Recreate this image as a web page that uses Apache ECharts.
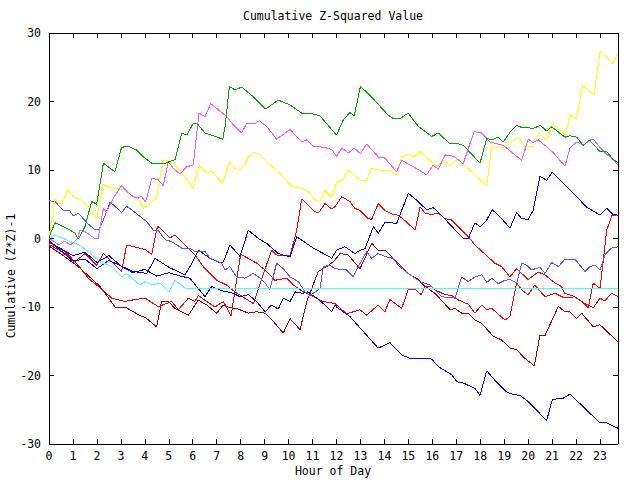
<!DOCTYPE html>
<html><head><meta charset="utf-8">
<script src="https://cdn.jsdelivr.net/npm/echarts@6/dist/echarts.min.js"></script>
<style>html,body{margin:0;padding:0;background:#fff}#c{width:640px;height:480px}#c svg path{shape-rendering:crispEdges}</style>
</head><body><div id="c"></div>
<script>
const titleText = 'Cumulative Z-Squared Value';
const xName = 'Hour of Day';
const yName = 'Cumulative (Z*Z)-1';
const hourTicks = [0,1,2,3,4,5,6,7,8,9,10,11,12,13,14,15,16,17,18,19,20,21,22,23];
const valueTicks = [-30,-20,-10,0,10,20,30];

const green = [[0,0.2],[0.25,2.3],[0.74,1.5],[1.08,0.8],[1.22,-0.1],[1.5,1.7],[1.78,5.4],[1.99,5.0],[2.27,11.0],[2.75,9.75],[3.03,13.3],[3.31,13.5],[3.66,12.9],[3.94,11.9],[4.29,11.0],[4.77,10.9],[5.26,11.5],[5.54,15.4],[5.75,15.1],[6.02,16.8],[6.2,16.7],[6.51,15.4],[6.86,15.0],[7.25,14.5],[7.35,16.3],[7.53,22.2],[7.76,21.7],[8.04,22.1],[8.53,20.7],[9.04,18.9],[9.57,20.2],[10.06,19.5],[10.55,18.3],[11.0,18.2],[11.31,17.9],[12.0,15.1],[12.28,17.3],[12.56,18.4],[12.74,17.9],[13.0,22.2],[13.4,20.9],[14.16,18.0],[14.37,17.5],[14.65,17.5],[14.99,18.3],[15.41,16.4],[15.97,14.9],[16.25,15.4],[16.74,13.8],[17.0,13.9],[17.3,13.6],[17.99,11.0],[18.27,14.6],[18.5,14.4],[18.75,14.8],[18.96,14.1],[19.24,15.5],[19.52,16.5],[19.73,16.2],[20.21,16.1],[20.52,16.5],[20.77,15.7],[20.98,16.3],[21.54,14.8],[21.75,15.0],[22.02,14.8],[22.3,13.6],[22.55,14.4],[23.0,12.7],[23.28,12.7],[23.55,11.5],[23.75,11.1]];
const magenta = [[0,0],[0.25,-0.5],[0.4,-0.95],[0.65,-0.4],[0.9,-0.95],[1.2,0],[1.29,1.24],[1.5,1.0],[1.92,0],[2.05,0],[2.27,4.4],[2.4,3.8],[2.62,5.4],[2.7,6.0],[3.03,7.7],[3.24,6.9],[3.52,6.1],[3.75,5.9],[3.85,6.2],[4.03,5.3],[4.29,8.8],[4.55,8.6],[4.77,7.7],[4.98,11.2],[5.2,10.2],[5.47,9.4],[5.75,10.5],[6.02,10.7],[6.26,18.3],[6.51,17.8],[6.75,19.7],[7.42,17.8],[7.69,16.6],[8.04,15.4],[8.25,16.8],[8.6,16.8],[8.78,17.2],[9.1,16.3],[9.5,14.5],[10.06,15.9],[10.55,14.1],[10.76,14.4],[11.03,13.5],[11.31,13.4],[11.6,13.2],[11.8,13.0],[12.0,12.0],[12.23,13.2],[12.5,12.5],[12.74,13.2],[13.0,12.4],[13.26,13.8],[13.74,11.9],[14.0,11.8],[14.51,9.75],[14.72,11.4],[15.2,10.5],[15.76,9.3],[16.04,10.7],[16.25,10.1],[16.53,12.2],[16.9,12.0],[17.29,10.9],[17.74,15.6],[18.06,15.4],[18.41,14.1],[18.96,13.6],[19.24,12.8],[19.73,11.4],[20.0,14.5],[20.21,14.0],[20.42,14.4],[20.77,13.4],[21.05,12.5],[21.2,11.9],[21.54,10.6],[21.75,13.2],[22.02,14.1],[22.3,13.6],[22.58,14.4],[22.75,14.4],[23.07,13.0],[23.41,11.9],[23.75,10.7]];
const yellow = [[0,0.2],[0.05,1.2],[0.25,5.7],[0.53,4.9],[0.78,7.1],[1.01,6.1],[1.3,5.7],[1.64,4.6],[1.99,2.9],[2.27,7.9],[2.55,7.4],[2.82,7.3],[3.17,7.1],[3.38,6.6],[3.8,5.4],[3.94,4.4],[4.15,4.9],[4.49,5.9],[4.77,11.5],[5.05,11.2],[5.47,10.0],[6.02,7.3],[6.26,10.6],[6.58,9.6],[6.79,9.85],[7.25,8.0],[7.53,11.2],[7.76,10.2],[8.04,10.0],[8.32,11.9],[8.56,12.6],[8.8,12.2],[9.08,11.2],[9.64,9.5],[10.13,7.6],[10.48,7.4],[10.76,7.1],[11.12,5.6],[11.31,5.4],[11.52,7.0],[11.8,6.0],[12.0,8.1],[12.28,8.6],[12.49,10.0],[12.99,8.5],[13.26,8.5],[13.47,10.2],[13.75,10.0],[14.23,9.9],[14.51,9.3],[14.72,11.9],[14.99,12.3],[15.27,11.9],[15.48,12.7],[15.9,11.4],[16.18,10.5],[16.46,11.4],[16.74,10.6],[17.02,11.5],[17.3,10.8],[17.71,9.5],[18.27,7.7],[18.48,13.4],[18.82,13.2],[19.03,13.4],[19.31,14.1],[19.59,14.8],[19.87,13.4],[20.21,13.4],[20.44,15.4],[20.77,14.4],[21.05,16.8],[21.54,15.1],[21.78,18.1],[22.02,17.5],[22.27,22.3],[22.75,21.0],[23.0,27.3],[23.28,26.5],[23.51,25.5],[23.75,27.0]];
const lightBlue = [[0,5.5],[0.25,5.4],[0.6,4.1],[0.85,4.1],[1.01,3.3],[1.22,3.7],[1.64,2.1],[1.92,1.3],[2.1,1.4],[2.27,2.7],[2.55,5.3],[2.75,4.7],[3.03,3.8],[3.24,4.7],[3.52,4.0],[4.08,2.45],[4.35,1.24],[4.55,1.2],[4.86,-0.2],[5.12,-0.46],[5.54,-1.4],[5.88,-1.4],[6.09,-1.9],[6.51,-1.9],[6.72,-2.9],[7.21,-3.6],[7.35,-4.6],[7.55,-4.1],[7.83,-5.6],[8.18,-5.8],[8.53,-5.1],[8.81,-5.8],[9.02,-6.5],[9.22,-7.5],[9.5,-3.6],[9.78,-4.4],[10.06,-5.6],[10.41,-6.3],[10.69,-7.8],[10.9,-8.3],[11.31,-7.3],[11.45,-4.1],[11.73,-3.9],[11.94,-4.4],[12.42,-4.6],[12.7,-5.6],[12.91,-4.1],[13.26,-1.9],[13.47,-2.9],[13.74,-2.2],[14.09,-2.7],[14.37,-2.9],[14.58,-3.9],[14.99,-5.1],[15.49,-6.3],[15.9,-6.8],[16.11,-7.5],[16.39,-8.5],[16.95,-8.7],[17.22,-5.6],[17.5,-6.3],[17.78,-5.6],[18.06,-5.3],[18.27,-6.4],[18.48,-5.8],[18.75,-6.6],[19.03,-6.1],[19.24,-6.0],[19.52,-6.5],[19.73,-3.6],[19.94,-3.9],[20.14,-4.6],[20.49,-4.2],[20.7,-5.1],[20.98,-3.5],[21.26,-4.1],[21.54,-3.0],[21.95,-3.0],[22.37,-4.8],[22.58,-4.1],[22.79,-3.9],[23.0,-4.6],[23.2,-2.4],[23.48,-1.4],[23.75,-1.2]];
const cyan = [[0,0],[0.25,0.5],[0.6,0.0],[1.0,-0.6],[1.3,-1.0],[1.64,-1.9],[2.13,-3.4],[2.62,-4.1],[3.03,-5.6],[3.24,-5.1],[3.8,-6.8],[4.01,-6.3],[4.29,-6.8],[4.63,-6.5],[5.0,-7.8],[5.26,-6.1],[5.7,-7.3],[23.75,-7.3]];
const blueA = [[0,-0.5],[0.5,-1.5],[1.0,-2.5],[1.5,-2.0],[2.0,-3.5],[2.5,-2.5],[3.0,-4.0],[3.5,-4.8],[4.08,-5.1],[4.43,-2.9],[5.0,-4.2],[5.68,-5.3],[6.0,-3.4],[6.24,-1.7],[6.51,-2.4],[6.79,-3.0],[7.14,-3.6],[7.28,-3.4],[7.55,-0.95],[7.97,-2.6],[8.32,1.2],[8.74,0],[9.08,-0.7],[9.57,-2.2],[10.06,-2.7],[10.34,0.26],[11.03,-1.4],[11.73,-2.7],[11.8,-2.9],[12.0,-1.7],[12.35,-1.2],[12.77,-2.2],[12.99,-1.7],[13.19,-1.5],[13.33,-0.2],[13.54,1.73],[13.75,0.76],[14.03,2.4],[14.51,2.2],[15.0,6.6],[15.34,5.6],[15.76,4.2],[16.04,4.5],[16.32,3.6],[17.29,0.0],[17.5,0.0],[17.78,2.3],[17.99,1.7],[18.27,2.7],[18.5,4.2],[18.82,3.2],[19.24,1.5],[19.52,3.8],[19.73,2.9],[20.0,2.8],[20.21,4.1],[20.49,9.1],[20.77,8.5],[21.01,9.7],[21.68,7.3],[22.44,4.6],[23.0,3.4],[23.28,4.4],[23.55,3.5],[23.75,3.4]];
const blueB = [[0,-0.3],[0.5,-1.8],[1.0,-3.3],[1.5,-3.0],[2.0,-4.4],[2.5,-3.2],[3.0,-4.0],[3.5,-5.0],[4.0,-4.5],[4.5,-5.5],[5.0,-5.0],[5.5,-5.5],[5.88,-5.8],[6.51,-8.5],[6.79,-7.0],[7.2,-7.6],[7.69,-8.0],[7.97,-8.5],[8.32,-8.2],[8.67,-9.2],[9.02,-10.7],[9.29,-9.7],[9.57,-10.3],[9.78,-8.7],[10.06,-9.2],[10.27,-7.8],[10.61,-8.0],[10.8,-7.8],[11.1,-8.5],[11.45,-9.5],[11.8,-10.7],[11.94,-9.7],[12.0,-10.0],[12.56,-11.4],[13.74,-16.0],[14.23,-15.2],[14.72,-17.0],[15.07,-17.5],[15.5,-17.5],[15.97,-17.6],[16.25,-18.7],[16.81,-19.9],[17.02,-20.9],[17.3,-21.1],[17.78,-21.9],[17.99,-22.9],[18.27,-19.3],[18.61,-20.7],[19.1,-22.4],[19.4,-22.8],[19.66,-22.9],[20.0,-23.8],[20.42,-25.3],[20.77,-26.6],[21.01,-23.5],[21.47,-23.3],[21.75,-22.7],[22.51,-25.3],[23.0,-26.9],[23.2,-26.8],[23.55,-27.4],[23.75,-27.7]];
const redA = [[0,-0.5],[0.04,-0.95],[0.67,-2.2],[1.08,-3.4],[1.5,-2.2],[1.99,-3.9],[2.27,-2.2],[3.03,-4.8],[3.24,-0.95],[4.01,-1.6],[4.29,-2.3],[4.49,1.24],[4.54,1.8],[4.79,1.0],[5.05,0.1],[5.26,0.5],[6.09,-2.4],[6.44,-4.1],[7.0,-6.1],[7.42,-6.8],[7.76,-7.8],[8.53,-9.5],[9.29,-1.7],[9.5,-2.4],[10.06,-2.55],[10.34,1.2],[10.55,5.8],[11.03,4.1],[11.24,3.7],[11.52,5.1],[11.8,4.3],[11.94,4.65],[12.22,6.1],[12.56,5.4],[12.77,4.4],[12.98,4.1],[13.33,2.9],[13.47,2.8],[13.74,5.1],[14.02,4.1],[14.37,3.5],[14.58,3.4],[14.93,2.4],[15.28,1.2],[15.49,4.6],[15.7,3.7],[15.97,3.5],[16.25,3.7],[16.53,2.9],[16.8,2.7],[17.5,0.27],[17.78,-0.95],[18.61,-3.6],[18.89,-4.1],[19.24,-5.6],[19.52,-4.4],[20.0,-6.0],[20.42,-4.9],[20.7,-5.3],[21.12,-6.5],[21.39,-7.0],[21.53,-8.0],[21.95,-8.5],[22.23,-9.2],[22.51,-10.1],[22.72,-6.5],[23.0,-7.3],[23.28,1.24],[23.5,3.4],[23.75,3.4]];
const redB = [[0,-0.5],[0.3,-1.2],[0.7,-2.0],[1.22,-3.9],[1.64,-5.8],[2.06,-7.0],[2.62,-8.7],[3.17,-9.2],[3.45,-9.0],[4.01,-8.7],[4.56,-9.95],[5.12,-9.2],[5.4,-10.4],[5.82,-8.7],[6.09,-9.2],[6.23,-8.3],[6.58,-9.2],[6.93,-10.0],[7.28,-9.2],[7.6,-11.3],[8.0,-2.3],[8.67,-3.6],[9.08,-4.8],[9.43,-6.1],[9.92,-5.8],[10.2,-6.8],[10.62,-7.8],[11.45,-9.2],[11.94,-9.5],[12.42,-11.0],[12.98,-10.4],[13.26,-11.2],[13.74,-9.7],[14.02,-10.7],[14.23,-8.9],[14.72,-10.2],[14.99,-7.5],[15.28,-7.4],[15.53,-8.2],[15.7,-7.0],[15.97,-7.0],[16.11,-7.5],[16.53,-8.2],[16.8,-8.3],[17.1,-9.0],[17.5,-9.6],[17.78,-10.9],[18.06,-9.7],[18.27,-10.4],[18.48,-10.2],[19.03,-11.9],[19.24,-11.4],[19.52,-6.5],[19.73,-7.5],[20.0,-8.2],[20.28,-6.8],[20.7,-8.5],[21.12,-8.0],[21.53,-8.7],[21.95,-8.5],[22.37,-9.5],[22.72,-10.1],[23.0,-8.7],[23.2,-9.1],[23.48,-8.0],[23.75,-8.5]];
const darkRed = [[0,-0.5],[0.04,-1.2],[0.6,-2.5],[1.22,-4.1],[2.13,-7.0],[2.76,-10.0],[3.17,-10.0],[3.87,-11.4],[4.01,-11.5],[4.49,-12.9],[4.7,-9.2],[4.98,-9.2],[5.26,-10.2],[5.82,-11.2],[6.23,-9.0],[6.58,-9.7],[7.0,-10.9],[7.28,-9.7],[7.55,-10.1],[7.83,-10.2],[8.32,-10.9],[8.67,-10.7],[9.02,-10.9],[9.36,-12.1],[9.78,-13.8],[10.06,-11.7],[10.48,-13.3],[10.76,-9.2],[11.24,-4.8],[11.59,-4.1],[11.87,-3.4],[12.15,-2.2],[12.49,-2.4],[12.98,-4.4],[13.47,-0.7],[13.74,-1.7],[14.02,-1.7],[14.72,-4.1],[15.07,-5.3],[15.34,-5.8],[15.7,-7.0],[16.11,-8.0],[16.74,-10.4],[16.95,-10.2],[17.22,-10.9],[17.5,-10.9],[17.78,-11.9],[18.06,-12.4],[18.55,-14.3],[18.89,-14.8],[19.24,-16.0],[19.52,-16.2],[19.8,-17.3],[20.26,-18.6],[20.49,-14.1],[20.7,-14.2],[21.26,-9.9],[21.53,-10.7],[21.74,-10.7],[22.02,-11.7],[22.23,-10.9],[22.72,-12.9],[23.0,-12.6],[23.75,-15.1]];

const seriesDefs = [
  {data: darkRed, color: '#b00000'},
  {data: redB, color: '#ff0000'},
  {data: redA, color: '#ff0000'},
  {data: blueB, color: '#0000ff'},
  {data: blueA, color: '#0000ff'},
  {data: lightBlue, color: '#5a5aff'},
  {data: cyan, color: '#40ffff'},
  {data: yellow, color: '#ffff00'},
  {data: magenta, color: '#ff55ff'},
  {data: green, color: '#00a800'}
];

const font = 'DejaVu Sans Mono';
const fs = 11.5;
const chart = echarts.init(document.getElementById('c'), null, {renderer: 'svg'});
const tickStyle = {show: true, inside: true, length: 5, lineStyle: {color: '#000', width: 1}};
const lineAxis = {show: true, onZero: false, lineStyle: {color: '#000', width: 1}};
chart.setOption({
  animation: false,
  backgroundColor: '#fff',
  title: {text: titleText, left: 333, top: 10, padding: 0, textAlign: 'center',
    textStyle: {fontFamily: font, fontSize: fs, fontWeight: 'normal', color: '#000'}},
  graphic: [
    {type: 'text', x: 11, y: 276, rotation: Math.PI / 2,
     style: {text: yName, font: fs + 'px "' + font + '"', fill: '#000', align: 'center', verticalAlign: 'middle'}},
    {type: 'text', x: 333, y: 471,
     style: {text: xName, font: fs + 'px "' + font + '"', fill: '#000', align: 'center', verticalAlign: 'middle'}}
  ],
  grid: {left: 49, right: 22, top: 33, bottom: 36, containLabel: false, outerBoundsMode: 'none'},
  xAxis: [
    {type: 'value', min: 0, max: 23.75, interval: 1, position: 'bottom',
     axisLine: lineAxis, axisTick: tickStyle, splitLine: {show: false},
     axisLabel: {fontFamily: font, fontSize: fs, color: '#000', margin: 6,
       formatter: v => hourTicks.indexOf(v) >= 0 ? String(v) : ''}},
    {type: 'value', min: 0, max: 23.75, interval: 1, position: 'top',
     axisLine: lineAxis, axisTick: tickStyle, splitLine: {show: false}, axisLabel: {show: false}}
  ],
  yAxis: [
    {type: 'value', min: -30, max: 30, interval: 10, position: 'left',
     axisLine: lineAxis, axisTick: tickStyle, splitLine: {show: false},
     axisLabel: {fontFamily: font, fontSize: fs, color: '#000', margin: 8,
       formatter: v => valueTicks.indexOf(v) >= 0 ? String(v) : ''}},
    {type: 'value', min: -30, max: 30, interval: 10, position: 'right',
     axisLine: lineAxis, axisTick: tickStyle, splitLine: {show: false}, axisLabel: {show: false}}
  ],
  series: seriesDefs.map(s => ({
    type: 'line', data: s.data, xAxisIndex: 0, yAxisIndex: 0,
    showSymbol: false, symbol: 'none', smooth: false,
    lineStyle: {color: s.color, width: 1}, itemStyle: {color: s.color}
  }))
});
</script></body></html>
